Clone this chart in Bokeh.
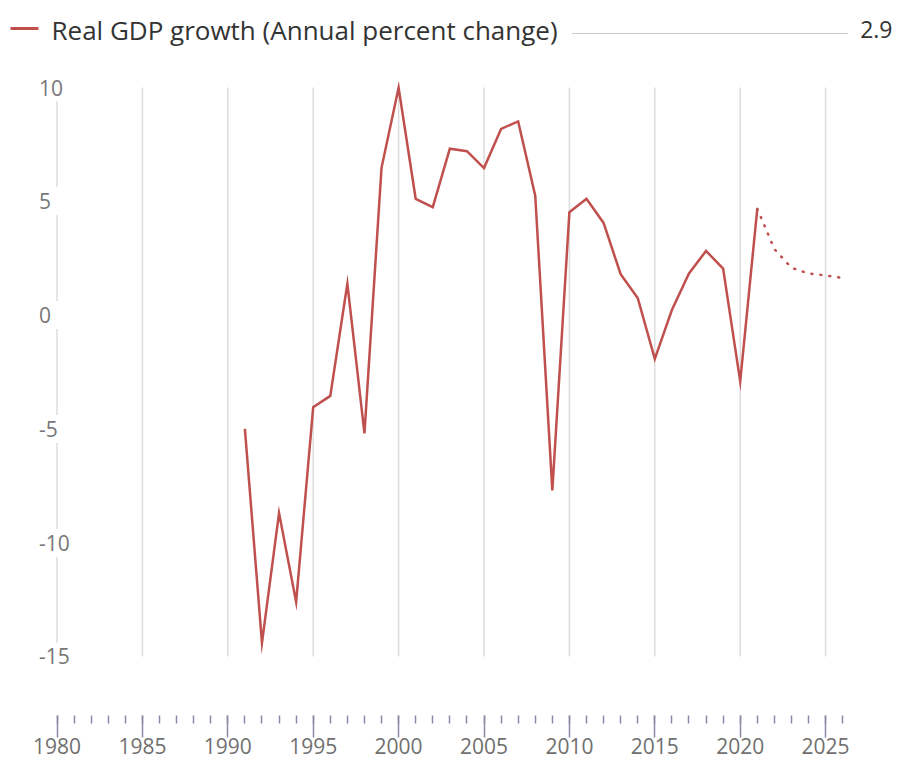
from bokeh.plotting import figure
from bokeh.models import Range1d, FixedTicker, Label, Arrow, LinearAxis
from bokeh.embed import file_html
from bokeh.resources import INLINE

# ---- data ----
years = list(range(1991, 2022))
gdp = [-5.0, -14.4, -8.7, -12.6, -4.05, -3.55, 1.38, -5.2, 6.47, 9.99,
       5.11, 4.74, 7.31, 7.2, 6.46, 8.18, 8.51, 5.25, -7.7, 4.52,
       5.11, 4.05, 1.8, 0.75, -1.92, 0.22, 1.83, 2.82, 2.04, -2.91, 4.67]
fc_years = [2021, 2022, 2023, 2024, 2025, 2026]
fc_gdp = [4.67, 2.9, 2.08, 1.83, 1.74, 1.63]

x_ticks = [1980, 1985, 1990, 1995, 2000, 2005, 2010, 2015, 2020, 2025]
x_minor = list(range(1980, 2027))
y_ticks = [10, 5, 0, -5, -10, -15]
y_tick_labels = ["10", "5", "0", "-5", "-10", "-15"]

legend_text = "Real GDP growth (Annual percent change)"
legend_value = "2.9"

# ---- style ----
RED = "#c0504d"
FONT = "Open Sans"
W, H = 893, 767

p = figure(width=W, height=H, output_backend="svg", toolbar_location=None,
           x_range=Range1d(1976.692, 2028.975), y_range=Range1d(-19.877, 13.8225),
           min_border_left=0, min_border_right=0, min_border_top=0, min_border_bottom=0,
           x_axis_location=None, y_axis_location=None)
p.outline_line_color = None
p.xgrid.grid_line_color = None
p.ygrid.grid_line_color = None
p.background_fill_color = "white"
p.border_fill_color = "white"

# vertical grid lines
p.segment(x0=x_ticks, y0=[min(y_ticks)] * len(x_ticks), x1=x_ticks, y1=[max(y_ticks)] * len(x_ticks),
          line_color="#dddddd", line_width=1.5)
# white gaps behind the y tick labels on the first grid line
p.rect(x=[x_ticks[0]] * len(y_ticks), y=y_ticks, width=14, height=28,
       width_units="screen", height_units="screen", fill_color="white", line_color=None)

# x axis fixed inside the frame
xaxis = LinearAxis(fixed_location=-17.592,
                   ticker=FixedTicker(ticks=x_ticks, minor_ticks=x_minor))
xaxis.axis_line_color = None
xaxis.major_tick_in = 0
xaxis.major_tick_out = 22
xaxis.minor_tick_in = 0
xaxis.minor_tick_out = 8
xaxis.major_tick_line_color = "#8a8aa6"
xaxis.minor_tick_line_color = "#8a8aa6"
xaxis.major_tick_line_width = 1.5
xaxis.minor_tick_line_width = 1.5
xaxis.major_label_standoff = 1
xaxis.major_label_text_font = FONT
xaxis.major_label_text_font_size = "21px"
xaxis.major_label_text_color = "#707070"
p.add_layout(xaxis, "below")

# y tick labels
for v, t in zip(y_ticks, y_tick_labels):
    p.add_layout(Label(x=x_ticks[0], y=v, text=t, x_offset=-18, text_align="left",
                       text_baseline="middle", text_font=FONT, text_font_size="21px",
                       text_color="#777777"))

# data lines
p.line(years, gdp, line_color=RED, line_width=2.5, line_join="miter")
p.line(fc_years, fc_gdp, line_color=RED, line_width=2.5, line_dash="1 8", line_cap="round")

# legend
ly = H - 29
p.add_layout(Arrow(end=None, x_start=10, y_start=ly + 1, x_end=38, y_end=ly + 1,
                   start_units="screen", end_units="screen",
                   line_color=RED, line_width=3))
p.add_layout(Label(x=51, y=ly, x_units="screen", y_units="screen", text=legend_text,
                   text_align="left", text_baseline="middle", text_font=FONT,
                   text_font_size="26px", text_color="#333333"))
p.add_layout(Arrow(end=None, x_start=572, y_start=ly - 4, x_end=847, y_end=ly - 4,
                   start_units="screen", end_units="screen",
                   line_color="#999999", line_width=1, line_dash="1 1"))
p.add_layout(Label(x=W - 1, y=ly, x_units="screen", y_units="screen", text=legend_value,
                   text_align="right", text_baseline="middle", text_font=FONT,
                   text_font_size="23px", text_color="#333333"))

open("out.html", "w").write(file_html(p, INLINE))
